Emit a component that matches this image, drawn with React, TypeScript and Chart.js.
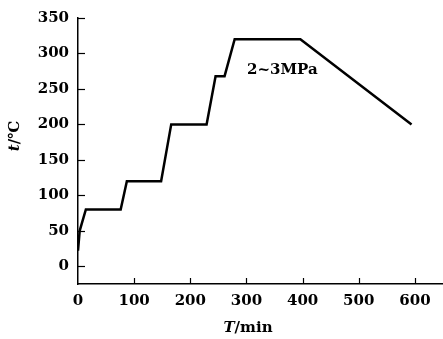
import { useEffect, useRef } from "react";
import { Chart, registerables } from "chart.js";

Chart.register(...registerables);

// Data
const timeMin = [0, 3, 14, 76, 87, 148, 166, 229, 245, 261, 279, 396, 594];
const tempC = [22, 50, 80, 80, 120, 120, 200, 200, 268, 268, 320, 320, 200];
const xTickValues = [0, 100, 200, 300, 400, 500, 600];
const yTickValues = [0, 50, 100, 150, 200, 250, 300, 350];
const annotationLabel = "2~3MPa";
const annotationAt = [301, 276];

const SERIF = "'DejaVu Serif', 'Liberation Serif', serif";

const decorPlugin = {
  id: "decor",
  afterDraw(chart: any) {
    const { ctx, chartArea } = chart;
    const xs = chart.scales.x;
    const ys = chart.scales.y;
    ctx.save();
    ctx.strokeStyle = "#000";
    ctx.lineWidth = 1.2;
    // inward tick marks
    xTickValues.forEach((v) => {
      if (v === 0) return;
      const px = Math.round(xs.getPixelForValue(v)) + 0.5;
      ctx.beginPath();
      ctx.moveTo(px, chartArea.bottom);
      ctx.lineTo(px, chartArea.bottom - 6);
      ctx.stroke();
    });
    yTickValues.forEach((v) => {
      const py = Math.round(ys.getPixelForValue(v)) + 0.5;
      ctx.beginPath();
      ctx.moveTo(chartArea.left, py);
      ctx.lineTo(chartArea.left + 7, py);
      ctx.stroke();
    });
    // annotation
    ctx.fillStyle = "#000";
    ctx.font = `bold 15px ${SERIF}`;
    ctx.textAlign = "left";
    ctx.textBaseline = "middle";
    ctx.fillText(annotationLabel, xs.getPixelForValue(annotationAt[0]), ys.getPixelForValue(annotationAt[1]));

    // x title: italic T + "/min"
    const italic = `italic bold 15px ${SERIF}`;
    const normal = `bold 15px ${SERIF}`;
    ctx.textBaseline = "middle";
    ctx.font = italic;
    const wT = ctx.measureText("T").width;
    ctx.font = normal;
    const wRest = ctx.measureText("/min").width;
    const cx = 248;
    const cy = 328;
    let sx = cx - (wT + wRest) / 2;
    ctx.font = italic;
    ctx.fillText("T", sx, cy);
    ctx.font = normal;
    ctx.fillText("/min", sx + wT, cy);

    // y title: rotated italic t + "/℃"
    ctx.translate(15, 136);
    ctx.rotate(-Math.PI / 2);
    ctx.font = italic;
    const wt = ctx.measureText("t").width;
    ctx.font = normal;
    const wr = ctx.measureText("/℃").width;
    sx = -(wt + wr) / 2;
    ctx.font = italic;
    ctx.fillText("t", sx, 0);
    ctx.font = normal;
    ctx.fillText("/℃", sx + wt, 0);
    ctx.restore();
  },
};

export default function App() {
  const ref = useRef<HTMLCanvasElement>(null);

  useEffect(() => {
    if (!ref.current) return;
    const chart = new Chart(ref.current, {
      type: "line",
      data: {
        datasets: [
          {
            data: timeMin.map((t, i) => ({ x: t, y: tempC[i] })),
            borderColor: "#000",
            borderWidth: 2.5,
            pointRadius: 0,
            tension: 0,
            fill: false,
          },
        ],
      },
      options: {
        responsive: false,
        animation: false,
        layout: { padding: { top: 14, left: 0, right: 0, bottom: 0 } },
        plugins: { legend: { display: false }, tooltip: { enabled: false } },
        scales: {
          x: {
            type: "linear",
            min: 0,
            max: 650,
            afterBuildTicks: (s: any) => {
              s.ticks = xTickValues.map((v) => ({ value: v }));
            },
            afterFit: (s: any) => {
              s.height = 55;
            },
            grid: { display: false, drawTicks: false },
            border: { display: true, color: "#000", width: 1.5 },
            ticks: {
              color: "#000",
              padding: 8,
              maxRotation: 0,
              font: { family: SERIF, size: 15, weight: "bold" },
            },
          },
          y: {
            type: "linear",
            min: -25,
            max: 350,
            afterBuildTicks: (s: any) => {
              s.ticks = yTickValues.map((v) => ({ value: v }));
            },
            afterFit: (s: any) => {
              s.width = 78;
            },
            grid: { display: false, drawTicks: false },
            border: { display: true, color: "#000", width: 1.5 },
            ticks: {
              color: "#000",
              padding: 9,
              font: { family: SERIF, size: 15, weight: "bold" },
            },
          },
        },
      },
      plugins: [decorPlugin],
    } as any);
    return () => chart.destroy();
  }, []);

  return (
    <div style={{ position: "fixed", left: 0, top: 0, width: 443, height: 339, background: "#fff" }}>
      <canvas ref={ref} width={443} height={339} style={{ display: "block" }} />
    </div>
  );
}
